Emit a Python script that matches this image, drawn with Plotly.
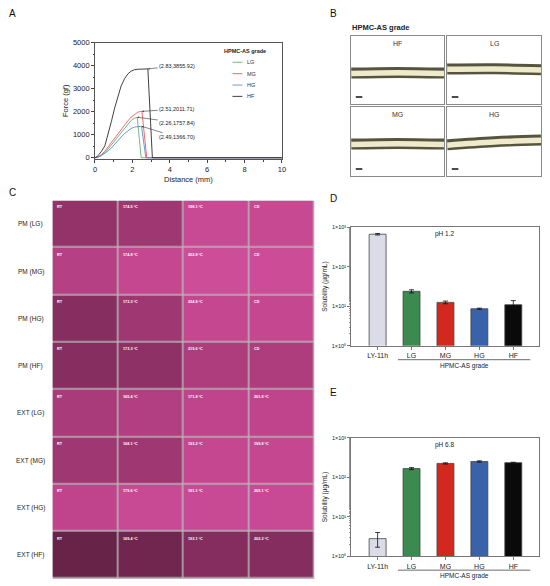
import plotly.graph_objects as go

W, H = 550, 586
FONT = "Liberation Sans"
INK = "#222222"

# ---- Panel A: force vs distance ----
grades = ["LG", "MG", "HG", "HF"]
grade_colors = {"LG": "#5db673", "MG": "#ee5a5a", "HG": "#6688cc", "HF": "#2b2b2b"}

dist_lg = [0, 0.1, 0.2, 0.35, 0.53, 0.7, 0.88, 1.05, 1.23, 1.4, 1.59, 1.76, 1.94, 2.1, 2.26, 2.47, 10]
force_lg = [0, 12, 40, 110, 212, 380, 565, 740, 918, 1110, 1314, 1480, 1624, 1710, 1757.84, 0, 0]
dist_mg = [0, 0.1, 0.2, 0.35, 0.53, 0.7, 0.88, 1.05, 1.23, 1.4, 1.59, 1.76, 1.94, 2.1, 2.29, 2.4, 2.51, 2.77, 10]
force_mg = [0, 15, 50, 140, 282, 470, 664, 860, 1059, 1240, 1412, 1600, 1765, 1880, 1977, 2000, 2011.71, 0, 0]
dist_hg = [0, 0.1, 0.2, 0.35, 0.53, 0.7, 0.88, 1.05, 1.23, 1.4, 1.59, 1.76, 1.94, 2.1, 2.29, 2.49, 2.72, 10]
force_hg = [0, 10, 35, 95, 184, 300, 424, 590, 749, 900, 1059, 1170, 1271, 1330, 1360, 1366.70, 0, 0]
dist_hf = [0, 0.1, 0.2, 0.35, 0.53, 0.7, 0.88, 1.05, 1.23, 1.4, 1.59, 1.76, 1.94, 2.1, 2.29, 2.5, 2.7, 2.83, 3.07, 10]
force_hf = [0, 40, 130, 280, 520, 1000, 1580, 2150, 2700, 3120, 3440, 3640, 3760, 3815, 3840, 3850, 3854, 3855.92, 0, 0]

curves = {"LG": (dist_lg, force_lg), "MG": (dist_mg, force_mg),
          "HG": (dist_hg, force_hg), "HF": (dist_hf, force_hf)}

peak_x = [2.83, 2.51, 2.26, 2.49]
peak_y = [3855.92, 2011.71, 1757.84, 1366.70]
label_y = [3990, 2118, 1525, 890]

# ---- Panel B: filament images ----
b_labels = ["HF", "LG", "MG", "HG"]
b_left = [0.45, 0.51, 0.46, 0.45]
b_right = [0.45, 0.50, 0.46, 0.52]

# ---- Panel C: hot-stage micrographs (mean darkness of each frame) ----
c_rows = ["PM (LG)", "PM (MG)", "PM (HG)", "PM (HF)",
          "EXT (LG)", "EXT (MG)", "EXT (HG)", "EXT (HF)"]
c_temps = [
    ["RT", "174.5 °C", "198.1 °C", "CD"],
    ["RT", "174.8 °C", "202.8 °C", "CD"],
    ["RT", "173.3 °C", "224.8 °C", "CD"],
    ["RT", "173.3 °C", "219.6 °C", "CD"],
    ["RT", "165.4 °C", "171.8 °C", "201.8 °C"],
    ["RT", "168.1 °C", "193.2 °C", "199.8 °C"],
    ["RT", "179.6 °C", "191.1 °C", "205.1 °C"],
    ["RT", "169.4 °C", "193.1 °C", "202.2 °C"],
]
c_dark = [
    [0.50, 0.45, 0.20, 0.22],
    [0.35, 0.25, 0.15, 0.16],
    [0.55, 0.45, 0.25, 0.25],
    [0.55, 0.52, 0.38, 0.38],
    [0.40, 0.36, 0.30, 0.30],
    [0.45, 0.45, 0.25, 0.25],
    [0.30, 0.20, 0.20, 0.20],
    [0.70, 0.66, 0.56, 0.56],
]

# ---- Panels D/E: solubility ----
sol_cats = ["LY-11h", "LG", "MG", "HG", "HF"]
sol_colors = ["#dcdce8", "#3b8a50", "#d3281e", "#3a62aa", "#0a0a0a"]
sol_ph12 = [668, 24, 12.6, 8.7, 11]
err_ph12_up = [30, 2.2, 1.0, 0.3, 3.0]
err_ph12_dn = [30, 2.2, 1.0, 0.3, 1.5]
sol_ph68 = [2.8, 166, 224, 251, 234]
err_ph68_up = [1.2, 10, 8, 10, 6]
err_ph68_dn = [1.1, 10, 8, 10, 6]
log_ticks = [1, 10, 100, 1000]
log_text = ["1×10⁰", "1×10¹", "1×10²", "1×10³"]


def px(x0, x1):
    return [x0 / W, x1 / W]


def py(y0, y1):
    return [1 - y1 / H, 1 - y0 / H]


def fnt(size, color=INK):
    return dict(family=FONT, size=size, color=color)


fig = go.Figure()

# A
for g in grades:
    d, f = curves[g]
    fig.add_trace(go.Scatter(x=d, y=f, mode="lines", name=g, showlegend=False,
                             line=dict(color=grade_colors[g], width=0.9),
                             xaxis="x", yaxis="y"))

# B
for i, lab in enumerate(b_labels):
    ax = str(i + 2)
    mid = (b_left[i] + b_right[i]) / 2 + 0.01
    fig.add_trace(go.Scatter(x=[0, 0.5, 1], y=[b_left[i], mid, b_right[i]],
                             mode="lines", line=dict(color="#55553f", width=11, shape="spline"),
                             showlegend=False, hoverinfo="skip", xaxis="x" + ax, yaxis="y" + ax))
    fig.add_trace(go.Scatter(x=[0, 0.5, 1], y=[b_left[i] - 0.005, mid - 0.005, b_right[i] - 0.005],
                             mode="lines", line=dict(color="#efeacb", width=5.5, shape="spline"),
                             showlegend=False, hoverinfo="skip", xaxis="x" + ax, yaxis="y" + ax))

# C
fig.add_trace(go.Heatmap(z=c_dark, x=[0, 1, 2, 3], y=list(range(len(c_rows))),
                         colorscale=[[0, "#dc55a4"], [0.3, "#c0448c"], [0.6, "#7c2a58"], [1, "#2a0e1c"]],
                         zmin=0, zmax=1, showscale=False, xgap=1.5, ygap=1.5,
                         hoverinfo="skip", xaxis="x6", yaxis="y6"))

# D / E
for vals, up, dn, ax in [(sol_ph12, err_ph12_up, err_ph12_dn, "7"),
                         (sol_ph68, err_ph68_up, err_ph68_dn, "8")]:
    fig.add_trace(go.Bar(x=sol_cats, y=vals, width=0.5,
                         marker=dict(color=sol_colors, line=dict(color="#444", width=0.8)),
                         error_y=dict(type="data", array=up, arrayminus=dn, color="#111",
                                      thickness=0.8, width=2.5),
                         showlegend=False, xaxis="x" + ax, yaxis="y" + ax))

layout = dict(
    width=W, height=H, margin=dict(l=0, r=0, t=0, b=0),
    paper_bgcolor="white", plot_bgcolor="white",
    font=fnt(7),
    showlegend=False,
    xaxis=dict(domain=px(94, 283), range=[0, 10], dtick=2, ticks="outside", ticklen=3,
               minor=dict(ticks="outside", ticklen=1.5, dtick=1),
               showline=True, linecolor="#555", linewidth=0.8, mirror=True,
               showgrid=False, zeroline=False, tickfont=fnt(7.5),
               title=dict(text="Distance (mm)", font=fnt(7.5), standoff=3)),
    yaxis=dict(domain=py(39, 157), range=[-60, 5000], dtick=1000, ticks="outside", ticklen=3,
               minor=dict(ticks="outside", ticklen=1.5, dtick=500),
               showline=True, linecolor="#555", linewidth=0.8, mirror=True,
               showgrid=False, zeroline=False, tickfont=fnt(7.5),
               title=dict(text="Force (gf)", font=fnt(7.5), standoff=3)),
)

b_dom = [(px(353, 447), py(32, 101)), (px(450, 545), py(32, 101)),
         (px(353, 447), py(104, 174)), (px(450, 545), py(104, 174))]
for i, (xd, yd) in enumerate(b_dom):
    ax = str(i + 2)
    common = dict(showgrid=False, zeroline=False, showticklabels=False, ticks="",
                  showline=True, linecolor="#8a8a8a", linewidth=0.8, mirror=True,
                  range=[0, 1], fixedrange=True)
    layout["xaxis" + ax] = dict(domain=xd, anchor="y" + ax, **common)
    layout["yaxis" + ax] = dict(domain=yd, anchor="x" + ax, **common)

layout["xaxis6"] = dict(domain=px(51, 316), anchor="y6", range=[-0.5, 3.5], showline=False,
                        showgrid=False, zeroline=False, showticklabels=False, ticks="")
layout["yaxis6"] = dict(domain=py(199, 582), anchor="x6", range=[7.5, -0.5], showline=False,
                        showgrid=False, zeroline=False, showticklabels=False, ticks="")

for ax, yd in [("7", py(226, 346)), ("8", py(439, 559))]:
    layout["xaxis" + ax] = dict(domain=px(353, 543), anchor="y" + ax, range=[-0.78, 4.76],
                                showline=True, linecolor="#777", linewidth=0.8, mirror=True,
                                ticks="outside", ticklen=3, tickcolor="#777",
                                tickfont=fnt(7))
    layout["yaxis" + ax] = dict(domain=yd, anchor="x" + ax, type="log", range=[0, 3],
                                tickvals=log_ticks, ticktext=log_text,
                                ticks="outside", ticklen=3, tickcolor="#777",
                                minor=dict(ticks="outside", ticklen=1.5, tickcolor="#999"),
                                showline=True, linecolor="#777", linewidth=0.8, mirror=True,
                                showgrid=False, zeroline=False,
                                tickfont=fnt(5.5),
                                title=dict(text="Solubility (µg/mL)", font=fnt(6.5), standoff=3))

fig.update_layout(**layout)

ann = []
shapes = []


def note(text, x, y, size, xanchor="center", color=INK):
    # paper-referenced label with explicit anchors
    ann.append(dict(text=text, x=x / W, y=1 - y / H, xref="paper", yref="paper",
                    xanchor=xanchor, yanchor="middle", showarrow=False, font=fnt(size, color)))


# panel letters
for letter, x, y in [("A", 5, 10), ("B", 330, 10), ("C", 5, 191), ("D", 330, 197), ("E", 330, 393)]:
    note(letter, x, y, 10, xanchor="left", color="#111")

# A legend (drawn by hand to get the tight spacing)
note("<b>HPMC-AS grade</b>", 222, 48, 5.5, xanchor="left")
for i, g in enumerate(grades):
    yy = 59 + i * 11.5
    shapes.append(dict(type="line", x0=233 / W, x1=243 / W, y0=1 - yy / H, y1=1 - yy / H,
                       xref="paper", yref="paper", line=dict(color=grade_colors[g], width=0.9)))
    note(g, 246, yy, 5.5, xanchor="left", color="#333")

# A peak labels
for xp, yp, yl in zip(peak_x, peak_y, label_y):
    ann.append(dict(x=xp, y=yp, xref="x", yref="y", ax=4.4, ay=yl, axref="x", ayref="y",
                    text="(%.2f,%.2f)" % (xp, yp), showarrow=True, arrowhead=2, arrowsize=0.6,
                    arrowwidth=0.6, arrowcolor="#333", standoff=0, font=fnt(5.5)))

# B labels
note("<b>HPMC-AS grade</b>", 352, 24, 7.5, xanchor="left")
for i, lab in enumerate(b_labels):
    ax = str(i + 2)
    ann.append(dict(text=lab, x=0.5, y=0.97, xref="x" + ax, yref="y" + ax, yanchor="top",
                    xanchor="center", showarrow=False, font=fnt(7, "#333")))
    shapes.append(dict(type="line", x0=0.05, x1=0.12, y0=0.1, y1=0.1, xref="x" + ax, yref="y" + ax,
                       line=dict(color="#111", width=1.5)))

# C labels
shapes.append(dict(type="rect", x0=-0.5, x1=3.5, y0=-0.5, y1=7.5, xref="x6", yref="y6",
                   fillcolor="#b8b8b8", line=dict(width=0), layer="below"))
for r, name in enumerate(c_rows):
    ann.append(dict(text=name, x=29 / W, y=r, xref="paper", yref="y6", xanchor="center",
                    yanchor="middle", showarrow=False, font=fnt(6.5)))
    for c, t in enumerate(c_temps[r]):
        ann.append(dict(text="<b>%s</b>" % t, x=c - 0.46, y=r - 0.44, xref="x6", yref="y6",
                        xanchor="left", yanchor="top", showarrow=False, font=fnt(3.8, "white")))

# D / E labels
for ax, ph, ytxt in [("7", "pH 1.2", 233), ("8", "pH 6.8", 446)]:
    ann.append(dict(text=ph, x=2, y=1 - ytxt / H, xref="x" + ax, yref="paper", showarrow=False,
                    xanchor="center", yanchor="middle", font=fnt(6.5)))
for ax, yl, yt in [("7", 360, 366), ("8", 573, 579)]:
    shapes.append(dict(type="line", x0=0.6, x1=4.5, y0=1 - yl / H, y1=1 - yl / H,
                       xref="x" + ax, yref="paper", line=dict(color="#444", width=0.8)))
    ann.append(dict(text="HPMC-AS grade", x=2.55, y=1 - yt / H, xref="x" + ax, yref="paper",
                    xanchor="center", yanchor="middle", showarrow=False, font=fnt(6.5)))

fig.update_layout(annotations=ann, shapes=shapes)
fig.write_html("out.html", config={"displayModeBar": False},
               post_script="document.body.style.margin='0';"
                           "document.body.style.overflow='hidden';"
                           "document.documentElement.style.overflow='hidden';")
